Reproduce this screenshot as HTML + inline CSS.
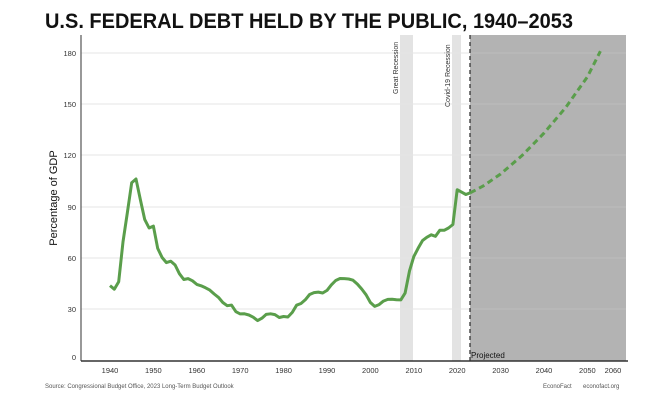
<!DOCTYPE html><html><head><style>body{margin:0;background:#fff}svg{display:block;font-family:"Liberation Sans",sans-serif}</style></head><body>
<svg id="s" width="663" height="404" viewBox="0 0 663 404">
<text x="45" y="28" font-size="21" font-weight="bold" fill="#111" textLength="528" lengthAdjust="spacingAndGlyphs">U.S. FEDERAL DEBT HELD BY THE PUBLIC, 1940–2053</text>
<rect x="470" y="35" width="156" height="326" fill="#b3b3b3"/>
<rect x="400" y="35" width="13" height="326" fill="#e3e3e3"/>
<rect x="452" y="35" width="9" height="326" fill="#e3e3e3"/>
<g stroke="#e6e6e6" stroke-width="1">
<line x1="81" x2="470" y1="53" y2="53"/><line x1="81" x2="470" y1="104" y2="104"/><line x1="81" x2="470" y1="155" y2="155"/><line x1="81" x2="470" y1="207" y2="207"/><line x1="81" x2="470" y1="258" y2="258"/><line x1="81" x2="470" y1="309" y2="309"/>
</g>
<g stroke="#bdbdbd" stroke-width="1">
<line x1="470" x2="626" y1="53" y2="53"/><line x1="470" x2="626" y1="104" y2="104"/><line x1="470" x2="626" y1="155" y2="155"/><line x1="470" x2="626" y1="207" y2="207"/><line x1="470" x2="626" y1="258" y2="258"/><line x1="470" x2="626" y1="309" y2="309"/>
</g>
<g font-size="7.5" fill="#333" text-anchor="end">
<text x="76" y="56">180</text><text x="76" y="107">150</text><text x="76" y="158">120</text><text x="76" y="210">90</text><text x="76" y="261">60</text><text x="76" y="312">30</text><text x="76" y="360">0</text>
</g>
<text transform="translate(57,198) rotate(-90)" font-size="11" fill="#111" text-anchor="middle">Percentage of GDP</text>
<text transform="translate(398,94) rotate(-90)" font-size="7" fill="#333">Great Recession</text>
<text transform="translate(450,107) rotate(-90)" font-size="7" fill="#333">Covid-19 Recession</text>
<line x1="81" y1="35" x2="81" y2="361" stroke="#555" stroke-width="1.2"/>
<line x1="81" y1="361" x2="628" y2="361" stroke="#333" stroke-width="1.5"/>
<line x1="470" y1="35" x2="470" y2="361" stroke="#333" stroke-width="1.3" stroke-dasharray="4,3"/>
<text x="471" y="358" font-size="8" fill="#111">Projected</text>
<g font-size="7.5" fill="#333" text-anchor="middle" id="xt"></g>
<polyline id="h" fill="none" stroke="#5a9e4b" stroke-width="3" stroke-linejoin="round"/>
<polyline id="p" fill="none" stroke="#5a9e4b" stroke-width="3" stroke-dasharray="6,4"/>
<text x="45" y="388" font-size="6" fill="#555">Source: Congressional Budget Office, 2023 Long-Term Budget Outlook</text>
<text x="543" y="388" font-size="6" fill="#555">EconoFact</text>
<text x="583" y="388" font-size="6" fill="#555">econofact.org</text>
</svg>
<script>
var X=y=>110+(y-1940)*4.34,Y=v=>360-v*1.706;
var d=[43.6,41.5,45.9,69.2,86.5,103.9,106.1,93.9,82.4,77.4,78.5,65.4,60.1,57.1,57.9,55.7,50.6,47.2,47.7,46.4,44.3,43.5,42.3,41.0,38.7,36.7,33.7,31.8,32.2,28.3,27.0,27.1,26.4,25.1,23.1,24.5,26.7,27.1,26.6,24.9,25.5,25.2,27.9,32.1,33.1,35.3,38.4,39.5,39.8,39.3,40.8,44.0,46.6,47.8,47.7,47.5,46.8,44.5,41.6,38.2,33.7,31.4,32.5,34.5,35.5,35.6,35.3,35.2,39.2,52.2,60.6,65.5,70.0,71.9,73.4,72.5,76.1,76.0,77.4,79.4,99.8,98.4,97.0,98.0];
document.getElementById('h').setAttribute('points',d.map((v,i)=>X(1940+i).toFixed(1)+','+Y(v).toFixed(1)).join(' '));
var pp=[[2023,98],[2026,102],[2030,109],[2035,120],[2040,133],[2045,148],[2050,166],[2053,181]];
document.getElementById('p').setAttribute('points',pp.map(a=>X(a[0]).toFixed(1)+','+Y(a[1]).toFixed(1)).join(' '));
var g=document.getElementById('xt'),h='';
for(var y=1940;y<=2060;y+=10){var x=y==2060?613:X(y);h+='<text x="'+x+'" y="373">'+y+'</text>';}
g.innerHTML=h;
</script>
</body></html>
